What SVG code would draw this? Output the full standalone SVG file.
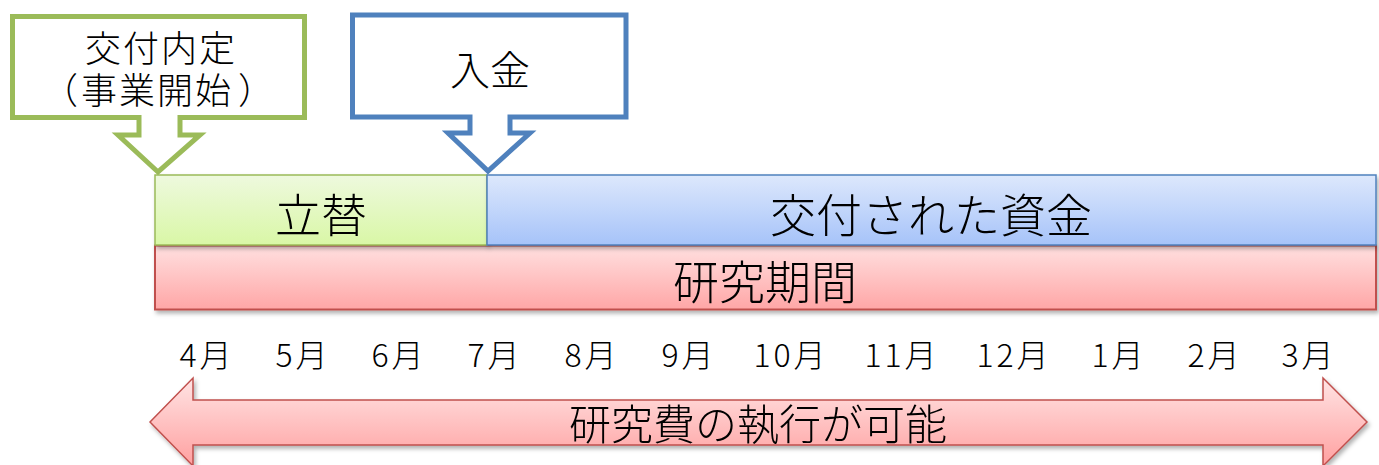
<svg xmlns="http://www.w3.org/2000/svg" width="1379" height="465" viewBox="0 0 1379 465">
<defs>
<linearGradient id="gGreen" x1="0" y1="0" x2="0" y2="1"><stop offset="0" stop-color="#EEF9DE"/><stop offset="1" stop-color="#D9F7A6"/></linearGradient>
<linearGradient id="gBlue" x1="0" y1="0" x2="0" y2="1"><stop offset="0" stop-color="#DDE8FC"/><stop offset="1" stop-color="#A6C3F9"/></linearGradient>
<linearGradient id="gRed" x1="0" y1="0" x2="0" y2="1"><stop offset="0" stop-color="#FFE0E0"/><stop offset="1" stop-color="#FFA6A6"/></linearGradient>
<linearGradient id="gArrow" x1="0" y1="0" x2="0" y2="1"><stop offset="0" stop-color="#FFE4E4"/><stop offset="1" stop-color="#FFA0A0"/></linearGradient>
<filter id="shadow" x="-5%" y="-20%" width="110%" height="150%"><feDropShadow dx="2" dy="3" stdDeviation="2" flood-color="#000" flood-opacity="0.3"/></filter>
</defs>
<style>
text{font-family:"Noto Sans CJK JP","Noto Sans CJK SC",sans-serif;font-weight:300;fill:#000;text-anchor:middle}
.callout{fill:#fff;stroke-width:5;stroke-linejoin:miter}
.big{font-size:46px}
.mon{font-size:32px;letter-spacing:3px}
.ct{font-size:36px}
.st{text-anchor:start}
</style>
<g id="callout-naitei">
<path class="callout" stroke="#9BBB59" d="M12.5,16.5 H304.5 V117.5 H180 V135 H200 L158,172 L118,135 H139 V117.5 H12.5 Z"/>
<text class="ct"><tspan x="161" y="62" letter-spacing="2">交付内定</tspan><tspan class="st" x="42" y="104">（</tspan><tspan class="st" x="81" y="104" letter-spacing="2">事業開始</tspan><tspan class="st" x="238" y="104">）</tspan></text>
</g>
<g id="callout-nyukin">
<path class="callout" stroke="#4F81BD" stroke-width="4.5" d="M352.5,15 H626 V117 H510 V133 H530 L488,171 L448,133 H470 V117 H352.5 Z"/>
<text class="ct" x="490" y="85" style="font-size:40px">入金</text>
</g>
<g id="bar-kenkyukikan" filter="url(#shadow)">
<rect x="155" y="245.5" width="1221" height="64" fill="url(#gRed)" stroke="#C0504D" stroke-width="2"/>
<text class="big" x="765" y="299">研究期間</text>
</g>
<g id="bar-tatekae" filter="url(#shadow)">
<rect x="155" y="175" width="332" height="70" fill="url(#gGreen)" stroke="#9BBB59" stroke-width="1.5"/>
<text class="big" x="321" y="232">立替</text>
</g>
<g id="bar-shikin" filter="url(#shadow)">
<rect x="487" y="175" width="889" height="70" fill="url(#gBlue)" stroke="#4F81BD" stroke-width="1.5"/>
<text class="big" x="931" y="232">交付された資金</text>
</g>
<g id="months">
<text class="mon" x="207" y="367">4月</text>
<text class="mon" x="303" y="367">5月</text>
<text class="mon" x="399" y="367">6月</text>
<text class="mon" x="495" y="367">7月</text>
<text class="mon" x="592" y="367">8月</text>
<text class="mon" x="689" y="367">9月</text>
<text class="mon" x="791" y="367">10月</text>
<text class="mon" x="902" y="367">11月</text>
<text class="mon" x="1014" y="367">12月</text>
<text class="mon" x="1119" y="367">1月</text>
<text class="mon" x="1215" y="367">2月</text>
<text class="mon" x="1309" y="367">3月</text>
</g>
<g id="connectors">
<g id="arrow-shikko" filter="url(#shadow)">
<path d="M150,422 L193,378 V400 H1323 V378 L1367,422 L1323,466 V445 H193 V466 Z" fill="url(#gArrow)" stroke="#C0504D" stroke-width="1.5"/>
<text x="758" y="440" style="font-size:42px">研究費の執行が可能</text>
</g>
</g>
</svg>
